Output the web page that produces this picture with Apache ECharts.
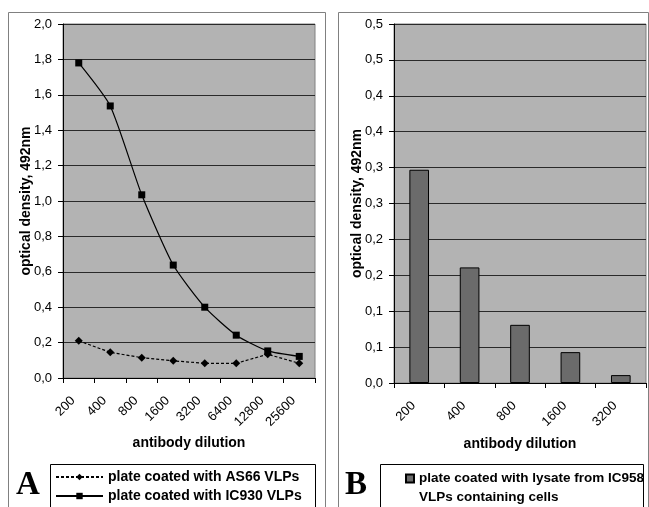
<!DOCTYPE html>
<html>
<head>
<meta charset="utf-8">
<script src="https://cdn.jsdelivr.net/npm/echarts@6/dist/echarts.min.js"></script>
<style>
html,body{margin:0;padding:0;background:#fff;}
#c{width:649px;height:507px;}
</style>
</head>
<body>
<div id="c"></div>
<script>
// ---- data ----
const dilutionsA = ['200','400','800','1600','3200','6400','12800','25600'];
const as66 = [0.21, 0.145, 0.115, 0.097, 0.083, 0.083, 0.134, 0.083];
const ic930 = [1.78, 1.537, 1.035, 0.638, 0.40, 0.242, 0.153, 0.122];
const leftYTicks = ['0,0','0,2','0,4','0,6','0,8','1,0','1,2','1,4','1,6','1,8','2,0'];

const dilutionsB = ['200','400','800','1600','3200'];
const lysate = [0.297, 0.161, 0.081, 0.043, 0.011];
const rightYTicks = ['0,0','0,1','0,1','0,2','0,2','0,3','0,3','0,4','0,4','0,5','0,5'];

const seriesNames = ['plate coated with AS66 VLPs','plate coated with IC930 VLPs','plate coated with lysate from IC958\nVLPs containing cells'];

const FONT = '"Liberation Sans", Arial, sans-serif';
const chart = echarts.init(document.getElementById('c'), null, {renderer:'canvas'});

const axisLabelStyle = {color:'#000', fontFamily:FONT, fontSize:13};
const xLabelStyle = Object.assign({rotate:45, margin:15, interval:0, padding:[0,8,0,0]}, axisLabelStyle);
const nameStyle = {color:'#000', fontFamily:FONT, fontSize:14, fontWeight:'bold'};
const legendText = {color:'#000', fontFamily:FONT, fontSize:14, fontWeight:'bold'};

chart.setOption({
  animation:false,
  backgroundColor:'#fff',
  grid:[
    {left:63, right:334, top:24, bottom:129, show:true, backgroundColor:'#b3b3b3', borderColor:'#808080', borderWidth:1},
    {left:394, right:3, top:24, bottom:124, show:true, backgroundColor:'#b3b3b3', borderColor:'#808080', borderWidth:1}
  ],
  xAxis:[
    {type:'category', gridIndex:0, data:dilutionsA, boundaryGap:true,
     axisLine:{lineStyle:{color:'#000', width:1}},
     axisTick:{show:true, length:5, lineStyle:{color:'#000'}},
     axisLabel:xLabelStyle,
     name:'antibody dilution', nameLocation:'middle', nameGap:58, nameMoveOverlap:false, nameTextStyle:nameStyle},
    {type:'category', gridIndex:1, data:dilutionsB, boundaryGap:true,
     axisLine:{lineStyle:{color:'#000', width:1}},
     axisTick:{show:true, length:5, lineStyle:{color:'#000'}},
     axisLabel:xLabelStyle,
     name:'antibody dilution', nameLocation:'middle', nameGap:54, nameMoveOverlap:false, nameTextStyle:nameStyle}
  ],
  yAxis:[
    {type:'value', gridIndex:0, min:0, max:2, interval:0.2,
     axisLine:{show:true, lineStyle:{color:'#000'}},
     axisTick:{show:true, length:5, lineStyle:{color:'#000'}},
     splitLine:{show:true, lineStyle:{color:'#2a2a2a', width:1}},
     axisLabel:Object.assign({margin:11, formatter:v=>leftYTicks[Math.round(v/0.2)]}, axisLabelStyle),
     name:'optical density, 492nm', nameLocation:'middle', nameGap:30, nameMoveOverlap:false, nameTextStyle:nameStyle},
    {type:'value', gridIndex:1, min:0, max:0.5, interval:0.05,
     axisLine:{show:true, lineStyle:{color:'#000'}},
     axisTick:{show:true, length:5, lineStyle:{color:'#000'}},
     splitLine:{show:true, lineStyle:{color:'#2a2a2a', width:1}},
     axisLabel:Object.assign({margin:11, formatter:v=>rightYTicks[Math.round(v/0.05)]}, axisLabelStyle),
     name:'optical density, 492nm', nameLocation:'middle', nameGap:30, nameMoveOverlap:false, nameTextStyle:nameStyle}
  ],
  legend:[
    {left:55, top:470, itemWidth:47, itemHeight:8, padding:0,
     data:[seriesNames[0]], textStyle:legendText, selectedMode:false},
    {left:55, top:489, itemWidth:47, itemHeight:8, padding:0,
     data:[seriesNames[1]], textStyle:legendText, selectedMode:false},
    {left:405, top:469, itemWidth:8, itemHeight:27, itemGap:5, padding:0,
     icon:'path://M0,0H8V8H0Z M8,27',
     data:[seriesNames[2]],
     textStyle:Object.assign({}, legendText, {fontSize:13.5, lineHeight:19}), selectedMode:false}
  ],
  series:[
    {name:seriesNames[0], type:'line', xAxisIndex:0, yAxisIndex:0, data:as66,
     symbol:'diamond', symbolSize:8, lineStyle:{color:'#000', width:1.2, type:[3,2]},
     itemStyle:{color:'#000'}},
    {name:seriesNames[1], type:'line', xAxisIndex:0, yAxisIndex:0, data:ic930, smooth:0.2,
     symbol:'rect', symbolSize:7, lineStyle:{color:'#000', width:1.2},
     itemStyle:{color:'#000'}},
    {name:seriesNames[2], type:'bar', xAxisIndex:1, yAxisIndex:1, data:lysate,
     barWidth:'39%', itemStyle:{color:'#6b6b6b', borderColor:'#000', borderWidth:1}}
  ],
  graphic:[
    {type:'rect', shape:{x:8.5, y:12.5, width:317, height:520}, style:{fill:'none', stroke:'#808080', lineWidth:1}, silent:true, z:-1},
    {type:'rect', shape:{x:338.5, y:12.5, width:310, height:520}, style:{fill:'none', stroke:'#808080', lineWidth:1}, silent:true, z:-1},
    {type:'rect', shape:{x:50.5, y:464.5, width:265, height:60}, style:{fill:'#fff', stroke:'#000', lineWidth:1}, silent:true, z:-1},
    {type:'rect', shape:{x:380.5, y:464.5, width:263, height:60}, style:{fill:'#fff', stroke:'#000', lineWidth:1}, silent:true, z:-1},
    {type:'text', left:16, top:469, style:{text:'A', font:'bold 33px "Liberation Serif", "Times New Roman", serif', fill:'#000'}},
    {type:'text', left:345, top:469, style:{text:'B', font:'bold 33px "Liberation Serif", "Times New Roman", serif', fill:'#000'}}
  ]
});
</script>
</body>
</html>
